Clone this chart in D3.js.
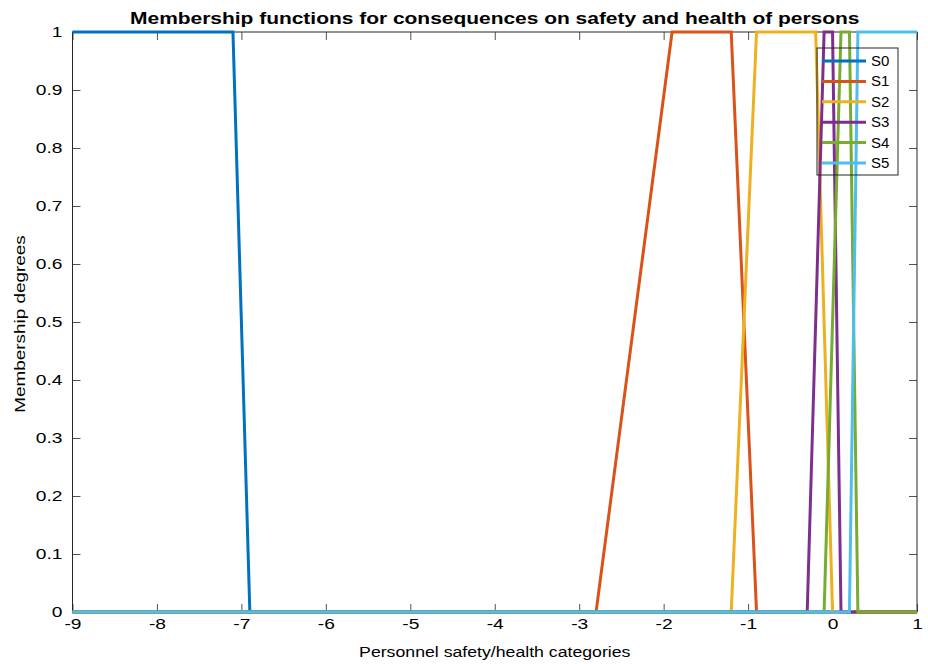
<!DOCTYPE html>
<html>
<head>
<meta charset="utf-8">
<script src="https://cdn.jsdelivr.net/npm/d3@7"></script>
<style>
  body { margin: 0; background: #fff; }
  text { font-family: "Liberation Sans", Arial, Helvetica, sans-serif; }
</style>
</head>
<body>
<div id="chart"></div>
<script>
// Breakpoints of each trapezoidal membership function (x values)
const seriesNames = ["S0", "S1", "S2", "S3", "S4", "S5"];
const seriesX = [
  [-9, -7.1, -6.9, 1],
  [-9, -2.8, -1.9, -1.2, -0.9, 1],
  [-9, -1.2, -0.9, -0.2, 0, 1],
  [-9, -0.3, -0.1, 0, 0.1, 1],
  [-9, -0.1, 0.1, 0.2, 0.3, 1],
  [-9, 0.2, 0.3, 1]
];
const seriesY = [
  [1, 1, 0, 0],
  [0, 0, 1, 1, 0, 0],
  [0, 0, 1, 1, 0, 0],
  [0, 0, 1, 1, 0, 0],
  [0, 0, 1, 1, 0, 0],
  [0, 0, 1, 1]
];
const colors = ["#0072BD", "#D95319", "#EDB120", "#7E2F8E", "#77AC30", "#4DBEEE"];
const xTicks = [-9, -8, -7, -6, -5, -4, -3, -2, -1, 0, 1];
const yTicks = [0, 0.1, 0.2, 0.3, 0.4, 0.5, 0.6, 0.7, 0.8, 0.9, 1];

const width = 928, height = 664;
const margin = {left: 72.5, right: 11, top: 32, bottom: 52};
const sx = 1.28; // the picture's text is a bit stretched

const svg = d3.select("#chart").append("svg")
  .attr("width", width)
  .attr("height", height);

const x = d3.scaleLinear().domain([-9, 1]).range([margin.left, width - margin.right]);
const y = d3.scaleLinear().domain([0, 1]).range([height - margin.bottom, margin.top]);

// axes (MATLAB style: ticks inside, box on)
const tickLen = 8;
const xAxis = svg.append("g")
  .attr("transform", `translate(0,${y(0)})`)
  .call(d3.axisBottom(x).tickValues(xTicks).tickSize(-tickLen).tickPadding(6).tickFormat(d => String(d)))
  .call(g => g.select(".domain").remove());
svg.append("g")
  .attr("transform", `translate(0,${y(1)})`)
  .call(d3.axisTop(x).tickValues(xTicks).tickSize(-tickLen).tickFormat(""))
  .call(g => g.select(".domain").remove());
const yAxis = svg.append("g")
  .attr("transform", `translate(${x(-9)},0)`)
  .call(d3.axisLeft(y).tickValues(yTicks).tickSize(-tickLen).tickPadding(10).tickFormat(d => String(d)))
  .call(g => g.select(".domain").remove());
svg.append("g")
  .attr("transform", `translate(${x(1)},0)`)
  .call(d3.axisRight(y).tickValues(yTicks).tickSize(-tickLen).tickFormat(""))
  .call(g => g.select(".domain").remove());

svg.selectAll(".tick line").attr("stroke", "#262626").attr("stroke-width", 0.8);
svg.selectAll(".tick text").attr("font-size", 15).attr("fill", "#000");
xAxis.selectAll(".tick text").attr("transform", `scale(${sx},1)`);
yAxis.selectAll(".tick text").attr("x", -10 / sx).attr("transform", `scale(${sx},1)`);

svg.append("rect")
  .attr("x", x(-9)).attr("y", y(1))
  .attr("width", x(1) - x(-9)).attr("height", y(0) - y(1))
  .attr("fill", "none").attr("stroke", "#262626").attr("stroke-width", 1);

// lines
const line = d3.line().x(d => x(d[0])).y(d => y(d[1]));
seriesNames.forEach((name, i) => {
  const pts = seriesX[i].map((v, j) => [v, seriesY[i][j]]);
  svg.append("path")
    .datum(pts)
    .attr("d", line)
    .attr("fill", "none")
    .attr("stroke", colors[i])
    .attr("stroke-width", 3);
});

// title and labels
svg.append("text")
  .attr("transform", `translate(${(x(-9) + x(1)) / 2},24) scale(1.31,1)`)
  .attr("text-anchor", "middle")
  .attr("font-size", 16).attr("font-weight", "bold")
  .text("Membership functions for consequences on safety and health of persons");

svg.append("text")
  .attr("transform", `translate(${(x(-9) + x(1)) / 2},657) scale(1.18,1)`)
  .attr("text-anchor", "middle")
  .attr("font-size", 15)
  .text("Personnel safety/health categories");

svg.append("text")
  .attr("transform", `translate(25,324) rotate(-90) scale(1.26,1)`)
  .attr("text-anchor", "middle")
  .attr("font-size", 15)
  .text("Membership degrees");

// legend
const lg = svg.append("g").attr("transform", "translate(817,48)");
lg.append("rect")
  .attr("width", 81).attr("height", 127)
  .attr("fill", "none")
  .attr("stroke", "#262626").attr("stroke-width", 1);
seriesNames.forEach((name, i) => {
  const yy = 13 + i * 20.4;
  lg.append("line")
    .attr("x1", 5).attr("x2", 49).attr("y1", yy).attr("y2", yy)
    .attr("stroke", colors[i]).attr("stroke-width", 3);
  lg.append("text")
    .attr("x", 54).attr("y", yy + 5)
    .attr("font-size", 15)
    .text(name);
});
</script>
</body>
</html>
